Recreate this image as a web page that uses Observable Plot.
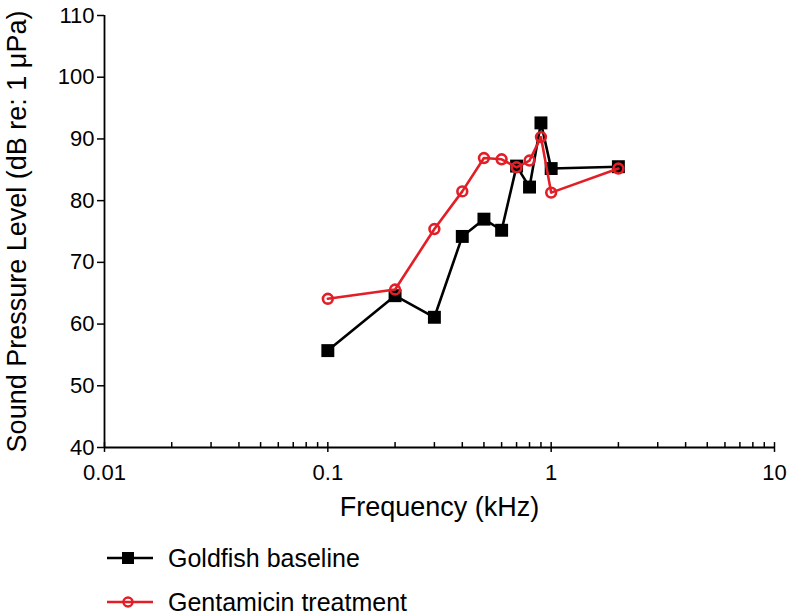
<!DOCTYPE html>
<html>
<head>
<meta charset="utf-8">
<script src="https://cdn.jsdelivr.net/npm/d3@7"></script>
<script src="https://cdn.jsdelivr.net/npm/@observablehq/plot@0.6"></script>
<style>
  html, body { margin: 0; padding: 0; background: #fff; }
  body { width: 787px; height: 615px; overflow: hidden; font-family: "Liberation Sans", Arial, sans-serif; }
  #legend { position: relative; height: 85px; }
  .item { position: absolute; left: 0; height: 30px; font-size: 25px; color: #000; }
  .item svg { position: absolute; left: 100px; top: 0; }
  .item span { position: absolute; left: 168px; white-space: nowrap; line-height: 30px; top: 0; }
</style>
</head>
<body>
<div id="chart"></div>
<div id="legend"></div>
<script>
// Frequencies (kHz)
const freqs = [0.1, 0.2, 0.3, 0.4, 0.5, 0.6, 0.7, 0.8, 0.9, 1.0, 2.0];
// Goldfish baseline thresholds (dB re: 1 µPa)
const baseline = [55.7, 64.6, 61.1, 74.2, 77.0, 75.2, 85.6, 82.2, 92.6, 85.2, 85.5];
// Gentamicin treatment thresholds (dB re: 1 µPa)
const gentamicin = [64.1, 65.6, 75.4, 81.5, 86.9, 86.7, 85.4, 86.5, 90.3, 81.3, 85.2];
// Series names
const seriesNames = ["Goldfish baseline", "Gentamicin treatment"];
// Axis ticks
const xTicks = [0.01, 0.1, 1, 10];
const yTicks = [40, 50, 60, 70, 80, 90, 100, 110];
const xMinor = [2,3,4,5,6,7,8,9].flatMap(m => [0.01, 0.1, 1].map(p => +(m * p).toPrecision(3)));

const black = "#000000";
const red = "#e31e26";

const base = freqs.map((f, i) => ({f, v: baseline[i]}));
const gent = freqs.map((f, i) => ({f, v: gentamicin[i]}));

const chart = Plot.plot({
  width: 787,
  height: 530,
  marginLeft: 104,
  marginRight: 13,
  marginTop: 15,
  marginBottom: 83,
  style: {fontFamily: "'Liberation Sans', Arial, sans-serif", color: "#000", background: "#fff"},
  x: {type: "log", domain: [0.01, 10]},
  y: {domain: [40, 110]},
  marks: [
    Plot.axisY({ticks: yTicks, tickSize: 7, tickPadding: 3, fontSize: 22, strokeWidth: 1.5,
      label: "Sound Pressure Level (dB re: 1 μPa)", labelAnchor: "center", labelArrow: "none", labelOffset: 98}),
    Plot.axisX({ticks: xTicks, tickSize: 0, tickPadding: 17, fontSize: 22, tickFormat: d => String(d),
      label: "Frequency (kHz)", labelAnchor: "center", labelArrow: "none", labelOffset: 68}),
    Plot.ruleX(xMinor, {y1: 40, y2: 40.8, stroke: black, strokeWidth: 1.5}),
    Plot.ruleX(xTicks, {y1: 39.2, y2: 40.8, stroke: black, strokeWidth: 1.5}),
    Plot.ruleY([40], {stroke: black, strokeWidth: 1.8}),
    Plot.ruleX([0.01], {stroke: black, strokeWidth: 1.8}),
    Plot.line(base, {x: "f", y: "v", stroke: black, strokeWidth: 2.6}),
    Plot.dot(base, {x: "f", y: "v", symbol: "square", r: 7.3, fill: black, stroke: "none"}),
    Plot.line(gent, {x: "f", y: "v", stroke: red, strokeWidth: 2.6}),
    Plot.dot(gent, {x: "f", y: "v", symbol: "circle", r: 4.9, fill: "none", stroke: red, strokeWidth: 2.6})
  ]
});
// axis titles slightly larger than tick labels
chart.querySelectorAll("g[aria-label='y-axis label'], g[aria-label='x-axis label']").forEach(g => g.setAttribute("font-size", 27));
chart.querySelectorAll("g[aria-label='y-axis label'] text, g[aria-label='x-axis label'] text").forEach(t => t.setAttribute("font-size", 27));
document.getElementById("chart").appendChild(chart);

// Legend
const legend = document.getElementById("legend");
const styles = [{color: black, shape: "square"}, {color: red, shape: "circle"}];
seriesNames.forEach((name, i) => {
  const div = document.createElement("div");
  div.className = "item";
  div.style.top = (13 + i * 44) + "px";
  const s = styles[i];
  const marker = s.shape === "square"
    ? `<rect x="22" y="9" width="12" height="12" fill="${s.color}"/>`
    : `<circle cx="28" cy="15" r="4.5" fill="none" stroke="${s.color}" stroke-width="2.5"/>`;
  div.innerHTML = `<svg width="60" height="30"><line x1="7" y1="15" x2="53" y2="15" stroke="${s.color}" stroke-width="2.6"/>${marker}</svg><span>${name}</span>`;
  legend.appendChild(div);
});
</script>
</body>
</html>
